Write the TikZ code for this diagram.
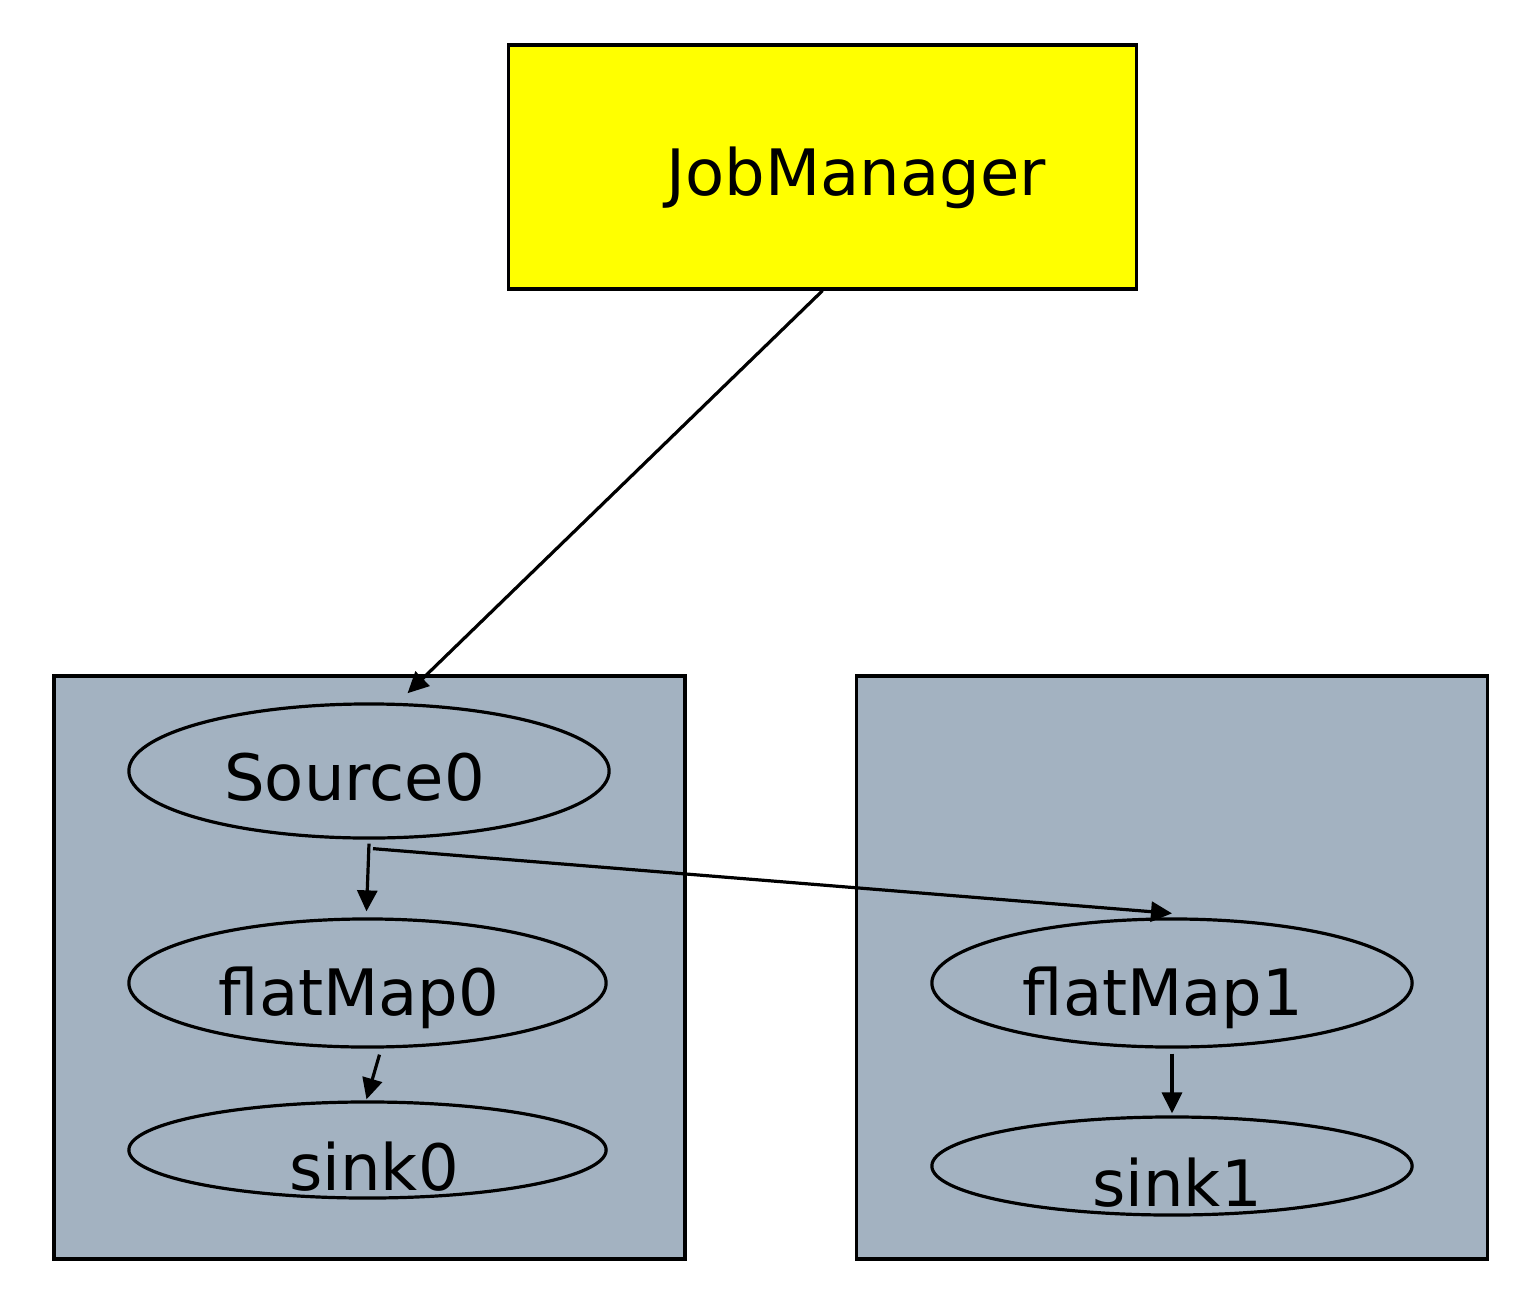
\documentclass[tikz,border=0pt]{standalone}
\usepackage{fontspec}
\setmainfont{DejaVu Sans}
\usetikzlibrary{shapes.geometric,arrows.meta}
\pgfdeclarelayer{background}
\pgfdeclarelayer{foreground}
\pgfsetlayers{background,main,foreground}
\definecolor{slotgray}{RGB}{163,178,193}
\definecolor{jmyellow}{RGB}{255,255,0}

\begin{document}
\begin{tikzpicture}[x=0.01cm,y=-0.01cm,
  slot/.style={draw,line width=0.035cm,fill=slotgray,inner sep=0,minimum width=6.31cm,minimum height=5.83cm},
  task/.style={draw,ellipse,line width=0.032cm,inner sep=0},
  lbl/.style={anchor=base,inner sep=0,font=\fontsize{18.2}{22}\selectfont},
  flow/.style={-{Triangle[length=0.21cm,width=0.2cm]},line width=0.032cm}]
\useasboundingbox (0,0) rectangle (1514,1290);
\begin{pgfonlayer}{background}
\node[slot] (slot0) at (369.5,967.5) {};
\node[slot] (slot1) at (1172,967.5) {};
\end{pgfonlayer}
\node[draw,line width=0.032cm,fill=jmyellow,inner sep=0,minimum width=6.27cm,minimum height=2.44cm] (jm) at (822.5,167) {};
\node[lbl] (jmtext) at (856,195) {JobManager};
% tasks of the first slot
\node[task,minimum width=4.8cm,minimum height=1.34cm] (src) at (369,771) {};
\node[lbl] (srctext) at (354.5,800) {Source0};
\node[task,minimum width=4.77cm,minimum height=1.28cm] (fm0) at (367.5,983) {};
\node[lbl] (fm0text) at (359,1015) {flatMap0};
\node[task,minimum width=4.77cm,minimum height=0.96cm] (sk0) at (367.5,1150) {};
\node[lbl] (sk0text) at (374,1190) {sink0};
% tasks of the second slot
\node[task,minimum width=4.8cm,minimum height=1.28cm] (fm1) at (1172,983) {};
\node[lbl] (fm1text) at (1163,1015) {flatMap1};
\node[task,minimum width=4.8cm,minimum height=0.98cm] (sk1) at (1172,1166) {};
\node[lbl] (sk1text) at (1177,1206) {sink1};
\begin{pgfonlayer}{foreground}
\draw[flow] (jm.south) -- ([shift={(1,-10)}]src.61);
\draw[flow] ([shift={(0,4)}]src.south) -- ([shift={(-1,-6)}]fm0.north);
\draw[flow] ([shift={(4,9)}]src.south) -- ([shift={(0,-4)}]fm1.north);
\draw[flow] ([shift={(12,6)}]fm0.south) -- ([shift={(-1,-1)}]sk0.north);
\draw[flow] ([shift={(0,5)}]fm1.south) -- ([shift={(0,-2)}]sk1.north);
\end{pgfonlayer}
\end{tikzpicture}
\end{document}
